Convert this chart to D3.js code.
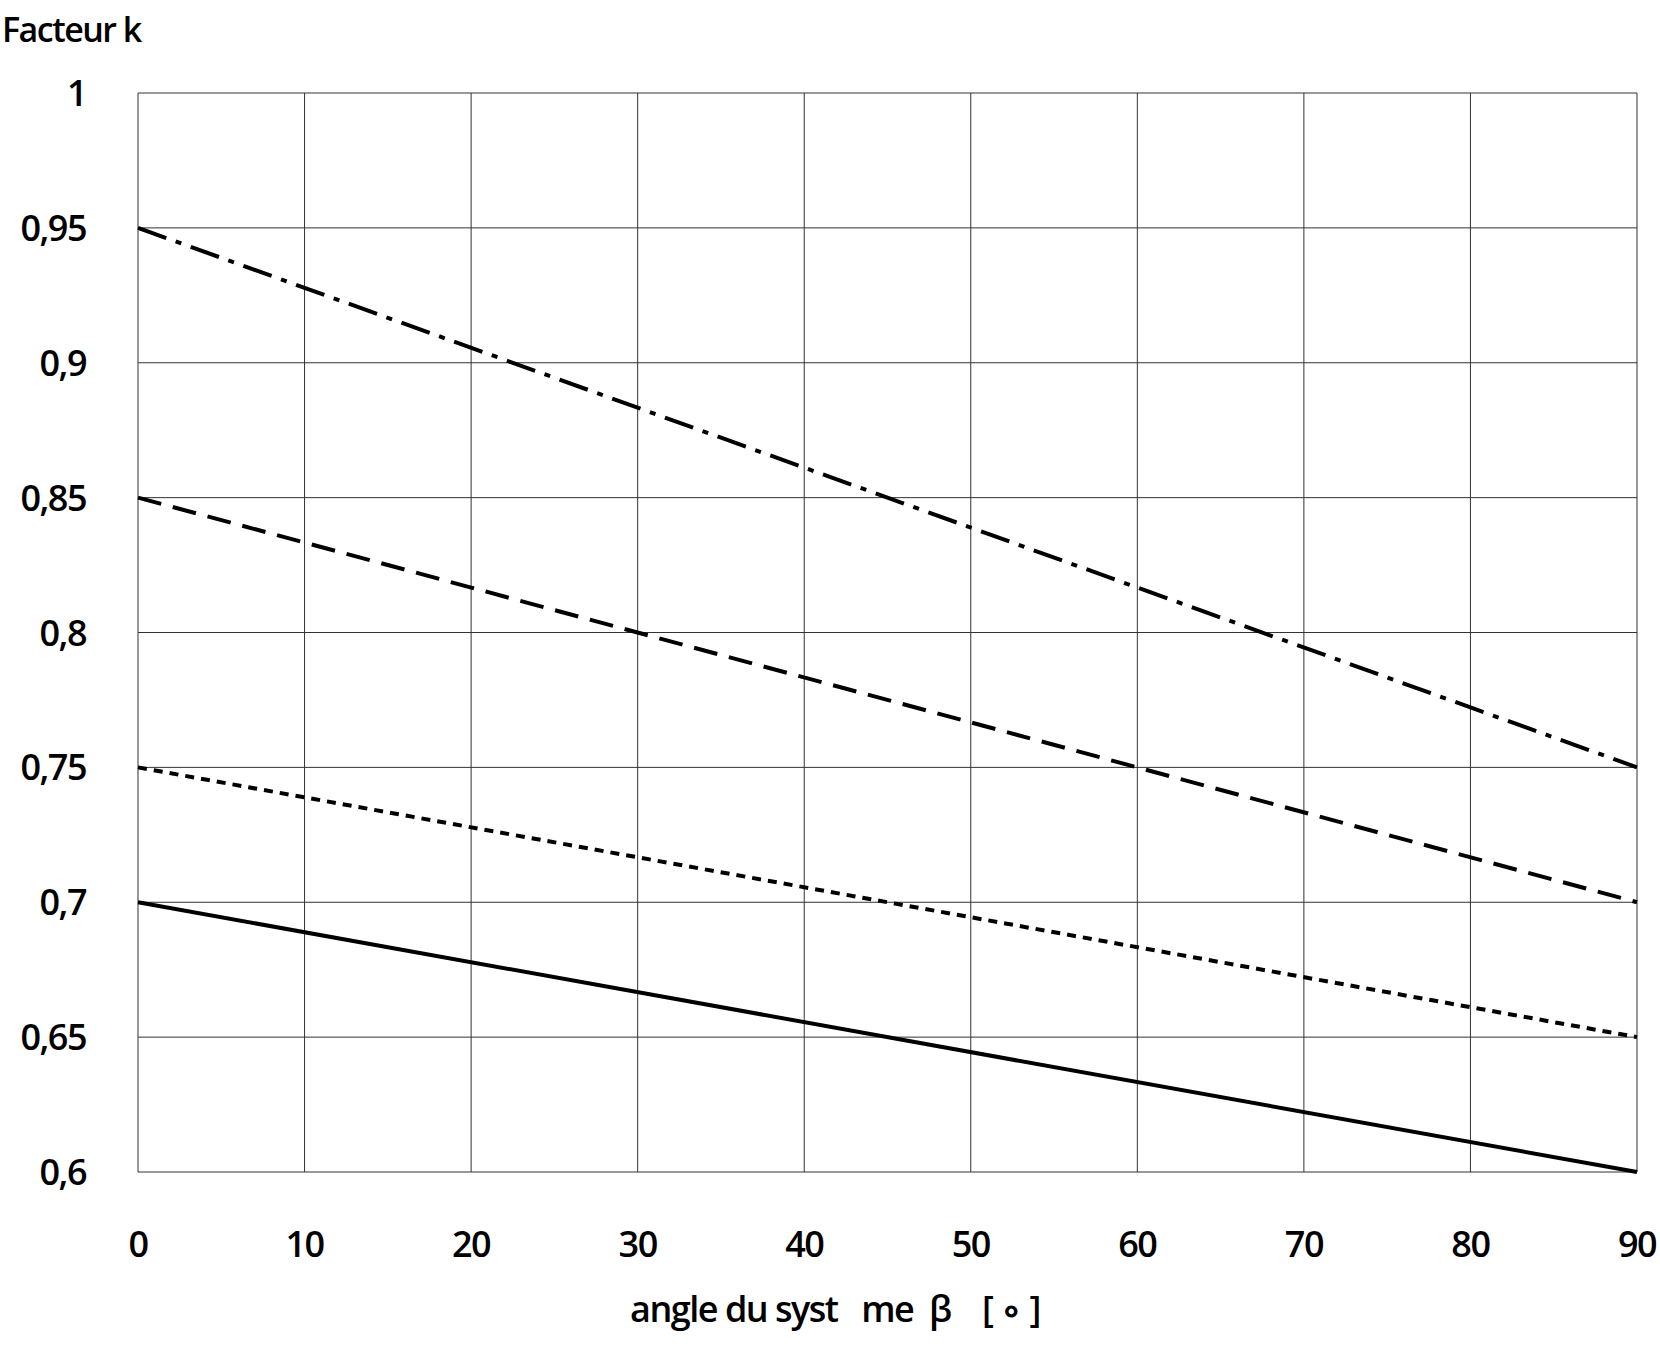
<!DOCTYPE html>
<html lang="fr">
<head>
<meta charset="UTF-8">
<title>Facteur k</title>
<style>body{margin:0;background:#fff}svg{display:block}text{font-family:"Open Sans",sans-serif;fill:#000;font-weight:600;letter-spacing:-1.5px;white-space:pre}</style>
</head>
<body>
<svg></svg>
<script src="https://cdn.jsdelivr.net/npm/d3@7"></script>
<script>
const angles = [0, 90]
const ySolid = [0.7, 0.6]
const yShortDash = [0.75, 0.65]
const yDash = [0.85, 0.7]
const yDashDot = [0.95, 0.75]
const xTicks = [0,10,20,30,40,50,60,70,80,90]
const yTicks = [0.6,0.65,0.7,0.75,0.8,0.85,0.9,0.95,1]

var width = 1660, height = 1348
var svg = d3.select("svg").attr("width", width).attr("height", height)
var x = d3.scaleLinear().domain([0, 90]).range([138, 1637])
var y = d3.scaleLinear().domain([0.6, 1]).range([1172, 93])

svg.append("g").selectAll("line").data(xTicks).join("line")
  .attr("x1", d => x(d)).attr("x2", d => x(d)).attr("y1", y(1)).attr("y2", y(0.6))
  .attr("stroke", "#333").attr("stroke-width", 1)
svg.append("g").selectAll("line").data(yTicks).join("line")
  .attr("x1", x(0)).attr("x2", x(90)).attr("y1", d => y(d)).attr("y2", d => y(d))
  .attr("stroke", "#333").attr("stroke-width", 1)

svg.append("g").selectAll("text").data(yTicks).join("text")
  .attr("x", 86).attr("y", d => y(d) + 13).attr("text-anchor", "end")
  .attr("font-size", 36).text(d => String(d).replace(".", ","))
svg.append("g").selectAll("text").data(xTicks).join("text")
  .attr("x", d => x(d)).attr("y", 1257).attr("text-anchor", "middle")
  .attr("font-size", 36).text(d => d)

var line = d3.line().x((d, i) => x(angles[i])).y(d => y(d))
const series = [
  {v: ySolid, dash: null},
  {v: yShortDash, dash: "9,7"},
  {v: yDash, dash: "24,12"},
  {v: yDashDot, dash: "30,10,6,10"}
]
svg.append("g").selectAll("path").data(series).join("path")
  .attr("d", d => line(d.v)).attr("fill", "none").attr("stroke", "#000")
  .attr("stroke-width", 4).attr("stroke-dasharray", d => d.dash)

svg.append("text").attr("x", 2).attr("y", 42).attr("font-size", 34).text("Facteur k")
svg.append("text").attr("x", 835).attr("y", 1322).attr("text-anchor", "middle")
  .attr("font-size", 36).text("angle du syst   me  β    [ ∘ ]")
</script>
</body>
</html>
